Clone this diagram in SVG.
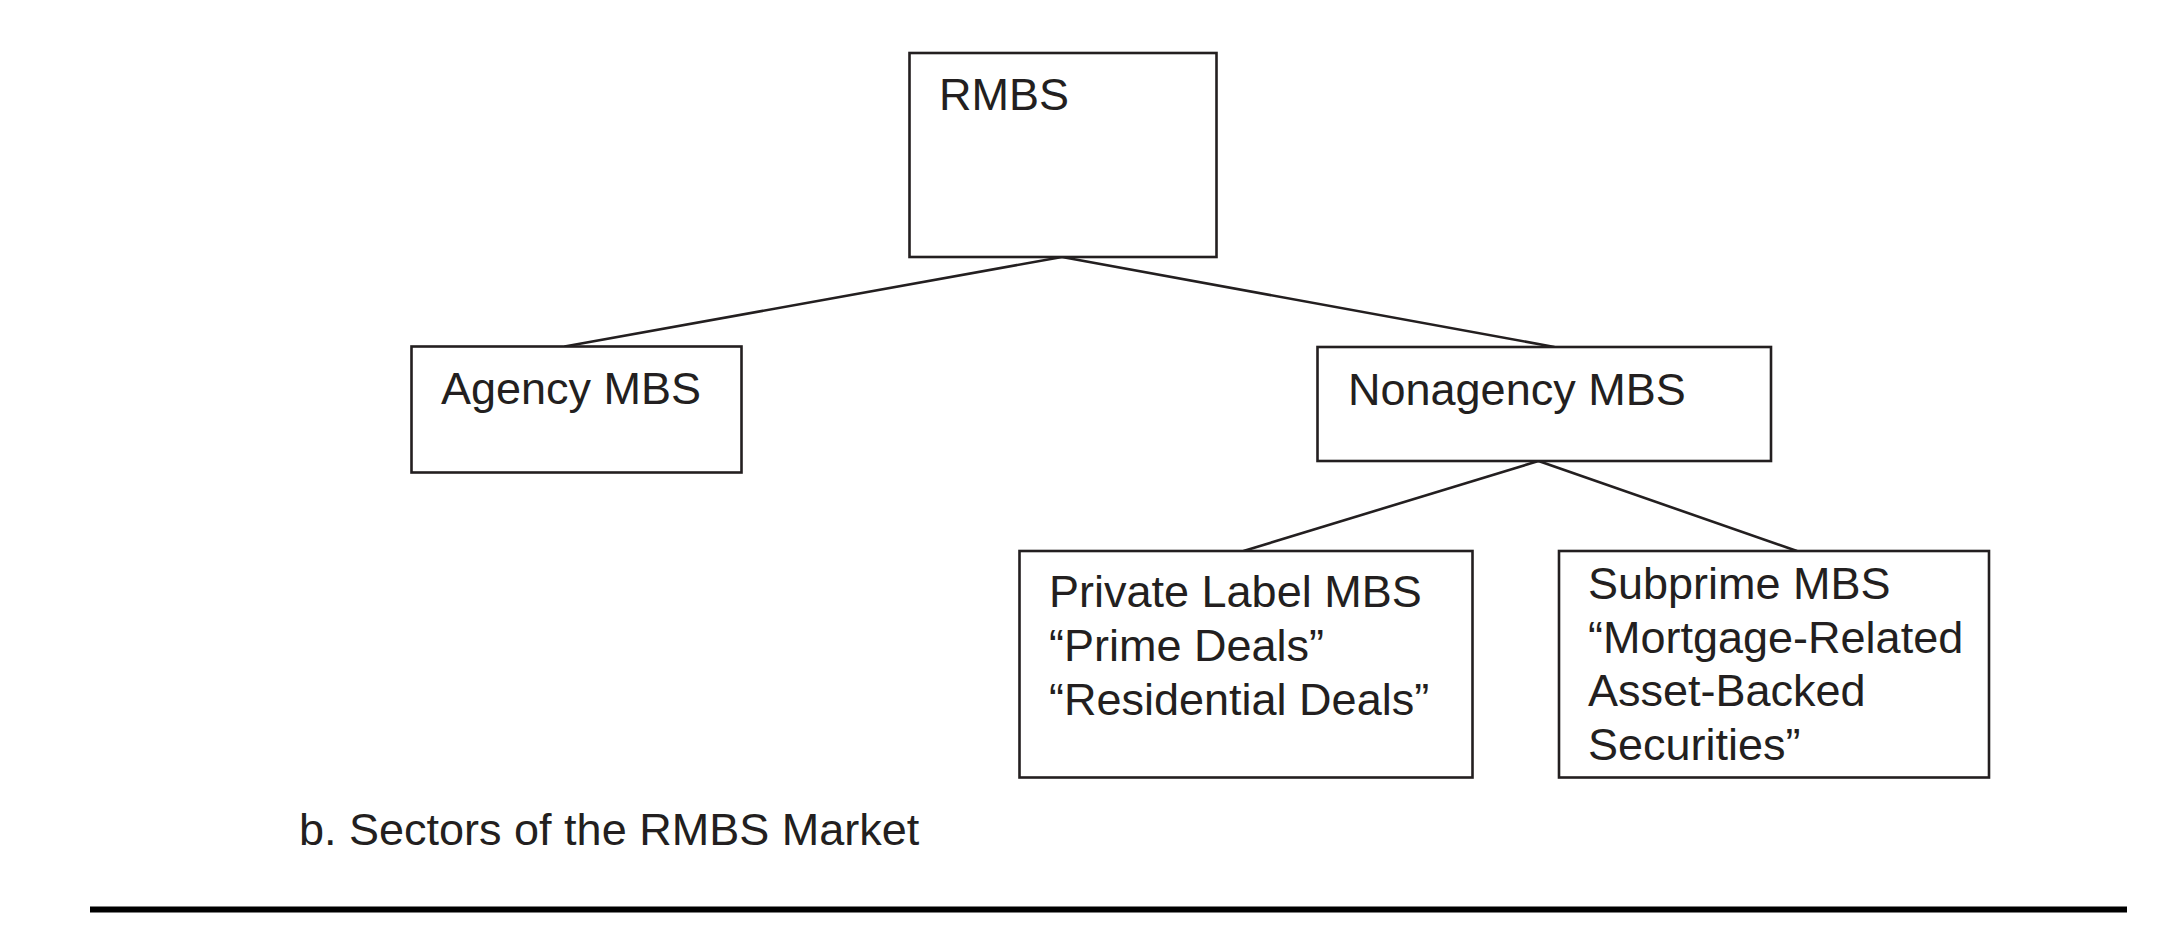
<svg xmlns="http://www.w3.org/2000/svg" width="2164" height="944" viewBox="0 0 2164 944">
<style>
.box{fill:#fff;stroke:#231f20;stroke-width:2.6}
.edge{fill:none;stroke:#231f20;stroke-width:2.6}
text{font-family:"Liberation Sans",Arial,sans-serif;font-size:45px;fill:#231f20}
</style>
<rect width="2164" height="944" fill="#fff"/>
<g id="connectors">
<line class="edge" x1="1062" y1="257" x2="564.5" y2="346.5"/>
<line class="edge" x1="1062" y1="257" x2="1554.5" y2="347"/>
<line class="edge" x1="1538.5" y1="461" x2="1243.5" y2="551"/>
<line class="edge" x1="1538.5" y1="461" x2="1797" y2="551"/>
</g>
<g id="rmbs">
<rect class="box" x="909.5" y="53" width="307" height="204"/>
<text x="939" y="110">RMBS</text>
</g>
<g id="agency">
<rect class="box" x="411.5" y="346.5" width="330" height="126"/>
<text x="441" y="404">Agency MBS</text>
</g>
<g id="nonagency">
<rect class="box" x="1317.5" y="347" width="453.5" height="114"/>
<text x="1348" y="405">Nonagency MBS</text>
</g>
<g id="private">
<rect class="box" x="1019.5" y="551" width="453" height="226.5"/>
<text x="1049"><tspan x="1049" y="607">Private Label MBS</tspan><tspan x="1049" y="661">“Prime Deals”</tspan><tspan x="1049" y="715">“Residential Deals”</tspan></text>
</g>
<g id="subprime">
<rect class="box" x="1559" y="551" width="430" height="226.5"/>
<text x="1588"><tspan x="1588" y="599">Subprime MBS</tspan><tspan x="1588" y="653">“Mortgage-Related</tspan><tspan x="1588" y="706">Asset-Backed</tspan><tspan x="1588" y="760">Securities”</tspan></text>
</g>
<text id="caption" x="299" y="845">b. Sectors of the RMBS Market</text>
<line x1="90" y1="909.5" x2="2127" y2="909.5" stroke="#000" stroke-width="6"/>
</svg>
